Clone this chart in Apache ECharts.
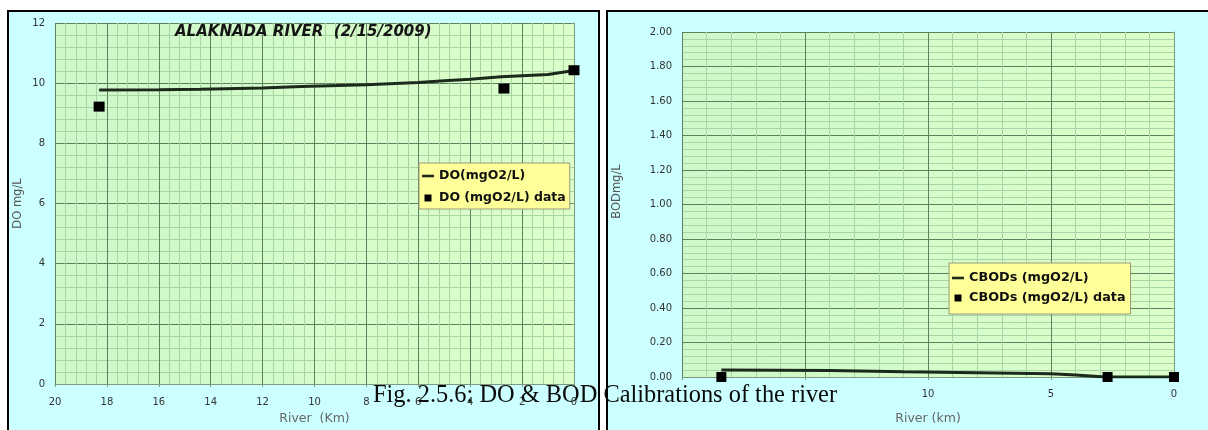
<!DOCTYPE html>
<html>
<head>
<meta charset="utf-8">
<script src="https://cdn.jsdelivr.net/npm/echarts@6/dist/echarts.min.js"></script>
<style>
  html, body { margin: 0; padding: 0; background: #ffffff; }
  #chart { width: 1208px; height: 430px; }
</style>
</head>
<body>
<div id="chart"></div>
<script>
// Dissolved oxygen along the river (distance upstream of the outlet, km)
const doModelKm  = [18.3, 16, 14.4, 12, 10.5, 8, 6, 5, 4, 2.8, 1, 0];
const doModelVal = [9.77, 9.78, 9.80, 9.84, 9.89, 9.95, 10.02, 10.08, 10.13, 10.21, 10.29, 10.42];
const doDataKm   = [18.3, 2.7, 0];
const doDataVal  = [9.22, 9.82, 10.43];

// Carbonaceous BOD along the river
const bodModelKm  = [18.4, 14, 11, 8, 5, 4, 2.8, 0];
const bodModelVal = [0.04, 0.038, 0.031, 0.025, 0.019, 0.012, 0.0, 0.0];
const bodDataKm   = [18.4, 2.7, 0];
const bodDataVal  = [0, 0, 0];

// Distance labels printed under the BOD panel
const rightXLabels = [10, 5, 0];

const pairs = (xs, ys) => xs.map((x, i) => [x, ys[i]]);

const FONT = 'DejaVu Sans';
const INK = '#1c2a1c';
const plotBg = {
  type: 'linear', x: 0, y: 0, x2: 1, y2: 0,
  colorStops: [{ offset: 0, color: '#cdf8c9' }, { offset: 1, color: '#dcffca' }]
};
const majorGrid = { show: true, lineStyle: { color: '#5f805f', width: 1 } };
const minorGrid = { show: true, lineStyle: { color: '#a9d4a5', width: 1 } };
const tickLabel = { color: '#333', fontSize: 10, fontFamily: FONT };

function xAxisCfg(gridIndex, interval, name, nameGap, margin, formatter) {
  return {
    type: 'value', gridIndex, min: 0, max: 20, interval, inverse: true,
    name, nameLocation: 'middle', nameGap,
    nameTextStyle: { color: '#666', fontSize: 12.5, fontFamily: FONT },
    axisLine: { show: true, lineStyle: { color: '#7d9a7d' } },
    axisTick: { show: true, length: 3, lineStyle: { color: '#7d9a7d' } },
    axisLabel: Object.assign({ margin, formatter }, tickLabel),
    splitLine: majorGrid,
    minorTick: { show: false, splitNumber: 5 },
    minorSplitLine: minorGrid
  };
}

function yAxisCfg(gridIndex, max, interval, name, nameGap, digits, namePad) {
  return {
    type: 'value', gridIndex, min: 0, max, interval,
    name, nameLocation: 'middle', nameGap,
    nameTextStyle: { color: '#555', fontSize: 11.5, fontFamily: FONT, padding: namePad },
    axisLine: { show: true, lineStyle: { color: '#7d9a7d' } },
    axisTick: { show: true, length: 3, lineStyle: { color: '#7d9a7d' } },
    axisLabel: Object.assign({ margin: 10, formatter: v => v.toFixed(digits) }, tickLabel),
    splitLine: majorGrid,
    minorTick: { show: false, splitNumber: 5 },
    minorSplitLine: minorGrid
  };
}

const legendText = size => ({ color: '#111', fontSize: size, fontWeight: 'bold', fontFamily: FONT, lineHeight: 16 });
const lineIcon = 'path://M0,0H12V2.6H0Z';
const squareIcon = 'path://M0,0H7V7H0Z';

const option = {
  animation: false,
  backgroundColor: '#ffffff',
  graphic: [
    { type: 'rect', z: -20, shape: { x: 8, y: 11, width: 591, height: 430 },
      style: { fill: '#ccffff', stroke: '#000', lineWidth: 2 } },
    { type: 'rect', z: -20, shape: { x: 607, y: 11, width: 620, height: 430 },
      style: { fill: '#ccffff', stroke: '#000', lineWidth: 2 } },
    { type: 'text', z: 100, left: 175, top: 25,
      style: { text: 'ALAKNADA RIVER  (2/15/2009)', fill: '#151515',
               font: 'italic bold 15px "DejaVu Sans"' } },
    { type: 'text', z: 100, x: 373, y: 396,
      style: { text: 'Fig. 2.5.6: DO & BOD Calibrations of the river', fill: '#0a0a0a',
               font: '24.4px "Liberation Serif"', verticalAlign: 'middle' } }
  ],
  grid: [
    { left: 55, right: 634, top: 23, bottom: 42, show: true, backgroundColor: plotBg, borderWidth: 0 },
    { left: 682, right: 34, top: 32, bottom: 49, show: true, backgroundColor: plotBg, borderWidth: 0 }
  ],
  xAxis: [
    xAxisCfg(0, 2, 'River  (Km)', 28, 13, v => String(v)),
    xAxisCfg(1, 5, 'River (km)', 35, 12, v => rightXLabels.includes(v) ? String(v) : '')
  ],
  yAxis: [
    yAxisCfg(0, 12, 2, 'DO mg/L', 31, 0, [0, 0, 0, 0]),
    yAxisCfg(1, 2, 0.2, 'BODmg/L', 59, 2, [0, 0, 0, 26])
  ],
  legend: [
    {
      left: 419, top: 163, orient: 'vertical', itemGap: 6,
      itemWidth: 12, itemHeight: 7, padding: [5, 4, 3, 3],
      backgroundColor: '#ffff99', borderColor: '#9a9a7a', borderWidth: 1,
      textStyle: legendText(12.5),
      data: [{ name: 'DO(mgO2/L)', icon: lineIcon }, { name: 'DO (mgO2/L) data', icon: squareIcon }]
    },
    {
      left: 949, top: 263, orient: 'vertical', itemGap: 4,
      itemWidth: 12, itemHeight: 7, padding: [7, 5, 8, 3],
      backgroundColor: '#ffff99', borderColor: '#9a9a7a', borderWidth: 1,
      textStyle: legendText(12.8),
      data: [{ name: 'CBODs (mgO2/L)', icon: lineIcon }, { name: 'CBODs (mgO2/L) data', icon: squareIcon }]
    }
  ],
  series: [
    { name: 'DO(mgO2/L)', type: 'line', xAxisIndex: 0, yAxisIndex: 0, showSymbol: false,
      symbol: 'none', itemStyle: { color: INK }, lineStyle: { color: INK, width: 3 },
      data: pairs(doModelKm, doModelVal), z: 3 },
    { name: 'DO (mgO2/L) data', type: 'scatter', xAxisIndex: 0, yAxisIndex: 0,
      symbol: 'rect', symbolSize: [11, 10], itemStyle: { color: '#000', opacity: 1 },
      data: pairs(doDataKm, doDataVal), z: 4 },
    { name: 'CBODs (mgO2/L)', type: 'line', xAxisIndex: 1, yAxisIndex: 1, showSymbol: false,
      symbol: 'none', itemStyle: { color: INK }, lineStyle: { color: INK, width: 3 },
      data: pairs(bodModelKm, bodModelVal), z: 3 },
    { name: 'CBODs (mgO2/L) data', type: 'scatter', xAxisIndex: 1, yAxisIndex: 1,
      symbol: 'rect', symbolSize: [10, 10], itemStyle: { color: '#000', opacity: 1 },
      data: pairs(bodDataKm, bodDataVal), z: 4 }
  ]
};

const chart = echarts.init(document.getElementById('chart'), null, { renderer: 'canvas' });
chart.setOption(option);
</script>
</body>
</html>
